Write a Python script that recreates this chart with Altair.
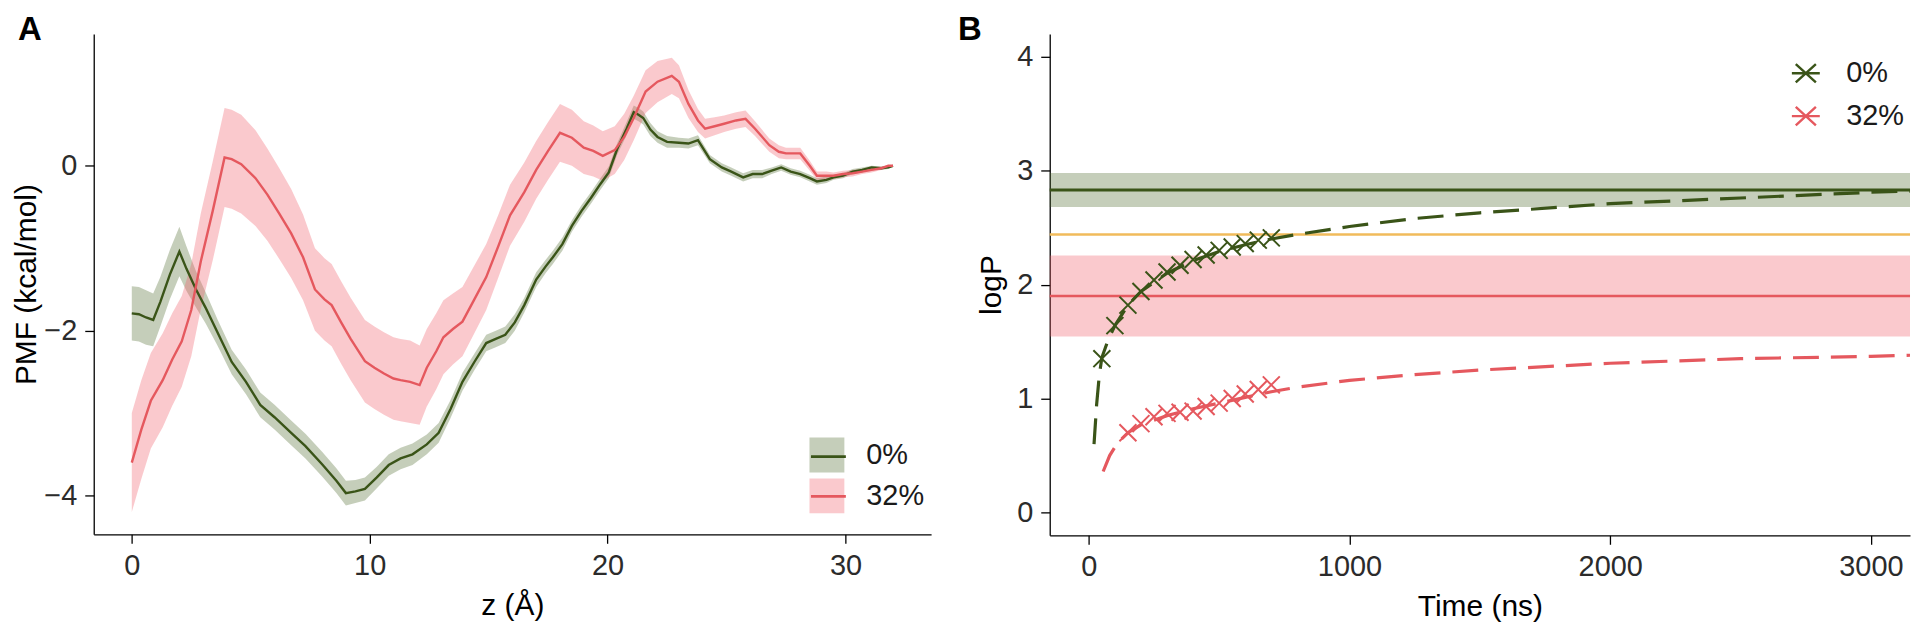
import altair as alt
import pandas as pd

FONT = "Liberation Sans"
SERIES = ["0%", "32%"]
GREEN = "#3a5418"
RED = "#e5585e"
GREEN_BAND = "rgba(74,104,40,0.32)"
RED_BAND = "rgba(240,96,108,0.34)"
ORANGE = "#f1bb5b"

# ---------------- Panel A: PMF profiles ----------------
z_0 = [0, 0.3, 0.6, 0.9, 1.2, 1.6, 2.0, 2.3, 2.7, 3.1, 3.6, 4.2, 4.8, 5.4, 6.0, 6.7, 7.3,
       8.0, 8.6, 9.0, 9.4, 9.8, 10.3, 10.8, 11.3, 11.8, 12.4, 12.9, 13.4, 13.9, 14.4,
       14.9, 15.3, 15.7, 16.1, 16.5, 17.0, 17.4, 17.7, 18.1, 18.5, 18.9, 19.3, 19.7,
       20.05, 20.4, 20.8, 21.1, 21.3, 21.5, 21.8, 22.1, 22.5, 23.0, 23.4, 23.8, 24.3,
       24.8, 25.2, 25.7, 26.1, 26.5, 26.9, 27.3, 27.7, 28.1, 28.5, 28.8, 29.2, 29.5,
       29.9, 30.3, 30.7, 31.1, 31.5, 31.8, 32.0]
pmf_0 = [-1.79, -1.80, -1.84, -1.87, -1.65, -1.32, -1.04, -1.25, -1.50, -1.72, -2.02,
         -2.38, -2.62, -2.90, -3.05, -3.24, -3.40, -3.62, -3.82, -3.97, -3.95, -3.92,
         -3.78, -3.63, -3.55, -3.50, -3.38, -3.24, -2.95, -2.62, -2.38, -2.15, -2.10,
         -2.05, -1.90, -1.69, -1.38, -1.22, -1.11, -0.95, -0.73, -0.55, -0.39, -0.22,
         -0.08, 0.20, 0.45, 0.65, 0.62, 0.58, 0.44, 0.35, 0.29, 0.28, 0.27, 0.31, 0.08,
         -0.02, -0.07, -0.14, -0.10, -0.10, -0.06, -0.02, -0.07, -0.10, -0.15, -0.19,
         -0.17, -0.14, -0.12, -0.07, -0.05, -0.02, -0.03, -0.02, 0.0]
err_0 = [0.33, 0.33, 0.33, 0.32, 0.30, 0.30, 0.30, 0.27, 0.22, 0.19, 0.16, 0.15, 0.15,
         0.15, 0.15, 0.15, 0.15, 0.15, 0.15, 0.15, 0.14, 0.14, 0.13, 0.13, 0.13, 0.13,
         0.12, 0.12, 0.11, 0.11, 0.10, 0.10, 0.10, 0.10, 0.10, 0.09, 0.09, 0.08, 0.08,
         0.08, 0.07, 0.07, 0.07, 0.07, 0.07, 0.07, 0.08, 0.08, 0.08, 0.08, 0.08, 0.07,
         0.07, 0.06, 0.06, 0.06, 0.05, 0.05, 0.05, 0.05, 0.05, 0.05, 0.04, 0.04, 0.04,
         0.04, 0.04, 0.04, 0.04, 0.03, 0.03, 0.03, 0.03, 0.02, 0.02, 0.02, 0.01]

z_32 = [0, 0.4, 0.8, 1.3, 1.7, 2.1, 2.5, 2.9, 3.4, 3.9, 4.2, 4.6, 5.2, 5.7, 6.2, 6.7, 7.2,
        7.7, 8.1, 8.4, 8.8, 9.2, 9.8, 10.2, 10.6, 11.0, 11.3, 11.7, 12.1, 12.4, 12.8,
        13.1, 13.5, 13.9, 14.4, 14.9, 15.4, 15.9, 16.5, 17.0, 17.5, 18.0, 18.5, 19.0,
        19.4, 19.8, 20.3, 20.7, 21.1, 21.6, 22.1, 22.7, 23.0, 23.4, 23.8, 24.1, 24.5,
        24.9, 25.4, 25.8, 26.2, 26.8, 27.2, 27.5, 28.1, 28.5, 28.8, 29.2, 29.5, 29.9,
        30.3, 30.7, 31.1, 31.5, 31.8, 32.0]
pmf_32 = [-3.60, -3.20, -2.85, -2.60, -2.35, -2.13, -1.75, -1.16, -0.55, 0.10, 0.08,
          0.02, -0.15, -0.35, -0.58, -0.82, -1.11, -1.50, -1.62, -1.69, -1.90, -2.10,
          -2.37, -2.45, -2.52, -2.58, -2.60, -2.62, -2.66, -2.45, -2.25, -2.08, -1.98,
          -1.89, -1.62, -1.35, -0.98, -0.60, -0.32, -0.05, 0.18, 0.40, 0.34, 0.22, 0.18,
          0.12, 0.19, 0.35, 0.58, 0.90, 1.02, 1.09, 1.02, 0.75, 0.55, 0.45, 0.48, 0.51,
          0.55, 0.57, 0.45, 0.25, 0.17, 0.15, 0.15, 0.00, -0.12, -0.12, -0.12, -0.10,
          -0.09, -0.07, -0.05, -0.03, 0.0, 0.0]
err_32 = [0.60, 0.60, 0.58, 0.57, 0.56, 0.55, 0.56, 0.58, 0.60, 0.60, 0.60, 0.60, 0.58,
          0.56, 0.55, 0.54, 0.52, 0.50, 0.50, 0.50, 0.50, 0.50, 0.50, 0.50, 0.50, 0.50,
          0.50, 0.50, 0.48, 0.47, 0.46, 0.45, 0.43, 0.42, 0.41, 0.40, 0.38, 0.37, 0.36,
          0.35, 0.35, 0.35, 0.34, 0.32, 0.31, 0.30, 0.29, 0.28, 0.27, 0.26, 0.25, 0.22,
          0.20, 0.17, 0.14, 0.12, 0.11, 0.10, 0.10, 0.10, 0.09, 0.08, 0.08, 0.07, 0.07,
          0.06, 0.05, 0.05, 0.04, 0.04, 0.04, 0.03, 0.03, 0.02, 0.01, 0.01]

# ---------------- Panel B: logP convergence ----------------
t_fit_0 = [20, 30, 40, 50, 75, 100, 150, 200, 300, 400, 500, 600, 700, 800, 1000, 1250,
           1500, 2000, 2500, 3000, 3150]
logp_fit_0 = [0.60, 0.95, 1.20, 1.36, 1.52, 1.64, 1.82, 1.94, 2.10, 2.21, 2.29, 2.35,
              2.40, 2.44, 2.51, 2.58, 2.63, 2.71, 2.76, 2.81, 2.82]
t_pts_0 = [50, 100, 150, 200, 250, 300, 350, 400, 450, 500, 550, 600, 650, 700]
logp_pts_0 = [1.35, 1.64, 1.82, 1.94, 2.04, 2.11, 2.17, 2.22, 2.26, 2.30, 2.33, 2.36,
              2.39, 2.41]

t_fit_32 = [55, 80, 110, 150, 200, 300, 400, 500, 600, 700, 800, 1000, 1250, 1500, 2000,
            2500, 3000, 3150]
logp_fit_32 = [0.36, 0.50, 0.61, 0.70, 0.77, 0.85, 0.91, 0.96, 1.01, 1.06, 1.10, 1.16,
               1.21, 1.25, 1.31, 1.35, 1.37, 1.38]
t_pts_32 = [150, 200, 250, 300, 350, 400, 450, 500, 550, 600, 650, 700]
logp_pts_32 = [0.70, 0.78, 0.84, 0.87, 0.88, 0.89, 0.93, 0.96, 1.00, 1.04, 1.08, 1.12]

ref_logp = [2.83, 1.90]
ref_err = [0.15, 0.355]
ref_width = [3.0, 2.6]
exp_logp = [2.44]

# ---------------- tables ----------------
dfA = pd.concat([
    pd.DataFrame({"z": z_0, "pmf": pmf_0, "err": err_0, "series": "0%"}),
    pd.DataFrame({"z": z_32, "pmf": pmf_32, "err": err_32, "series": "32%"}),
], ignore_index=True)
dfA["lo"] = dfA["pmf"] - dfA["err"]
dfA["hi"] = dfA["pmf"] + dfA["err"]
dfA["series_line"] = dfA["series"]

df_fit = pd.concat([
    pd.DataFrame({"t": t_fit_0, "logp": logp_fit_0, "col": GREEN}),
    pd.DataFrame({"t": t_fit_32, "logp": logp_fit_32, "col": RED}),
], ignore_index=True)
df_pts = pd.concat([
    pd.DataFrame({"t": t_pts_0, "logp": logp_pts_0, "series": "0%"}),
    pd.DataFrame({"t": t_pts_32, "logp": logp_pts_32, "series": "32%"}),
], ignore_index=True)
df_ref = pd.DataFrame({
    "logp": ref_logp,
    "lo": [v - e for v, e in zip(ref_logp, ref_err)],
    "hi": [v + e for v, e in zip(ref_logp, ref_err)],
    "col": [GREEN, RED],
    "band": [GREEN_BAND, RED_BAND],
    "w": ref_width,
})
df_exp = pd.DataFrame({"logp": exp_logp, "col": [ORANGE]})

# ---------------- Panel A chart ----------------
xA = alt.X("z:Q", scale=alt.Scale(domain=[-1.6, 33.6], nice=False, zero=False),
           axis=alt.Axis(values=[0, 10, 20, 30], title="z (Å)", titlePadding=10))
yscaleA = alt.Scale(domain=[-4.47, 1.6], nice=False, zero=False)
yaxisA = alt.Axis(values=[-4, -2, 0], title="PMF (kcal/mol)", titlePadding=2)

legA_common = dict(title=None, orient="none", legendX=718, legendY=405, symbolSize=1225,
                   labelFontSize=29, labelFont=FONT, labelColor="#1a1a1a", labelOffset=22,
                   rowPadding=6, padding=0)

bandA = alt.Chart(dfA).mark_area(opacity=1).encode(
    x=xA,
    y=alt.Y("lo:Q", scale=yscaleA, axis=yaxisA),
    y2="hi:Q",
    fill=alt.Fill("series:N", scale=alt.Scale(domain=SERIES, range=[GREEN_BAND, RED_BAND]),
                  legend=alt.Legend(symbolType="square", symbolStrokeWidth=0, **legA_common)),
)
lineA = alt.Chart(dfA).mark_line(strokeWidth=2.4).encode(
    x=xA,
    y=alt.Y("pmf:Q", scale=yscaleA, axis=yaxisA),
    stroke=alt.Stroke("series_line:N", scale=alt.Scale(range=[GREEN, RED]),
                      legend=alt.Legend(symbolType="stroke", symbolStrokeWidth=2.8,
                                        labelOpacity=0, zindex=1, **legA_common)),
)
panelA = alt.layer(bandA, lineA).properties(
    width=840, height=502,
    title=alt.TitleParams("A", anchor="start", frame="group", dx=-76, offset=-39,
                          baseline="alphabetic", fontSize=33, fontWeight="bold",
                          font=FONT, color="black"),
)

# ---------------- Panel B chart ----------------
xB = alt.X("t:Q", scale=alt.Scale(domain=[-150, 3150], nice=False, zero=False),
           axis=alt.Axis(values=[0, 1000, 2000, 3000], format="d", title="Time (ns)",
                         titlePadding=10))
yscaleB = alt.Scale(domain=[-0.2, 4.2], nice=False, zero=False)
yaxisB = alt.Axis(values=[0, 1, 2, 3, 4], title="logP", titlePadding=10)

bandB = alt.Chart(df_ref).mark_rect().encode(
    y=alt.Y("lo:Q", scale=yscaleB, axis=yaxisB),
    y2="hi:Q",
    fill=alt.Fill("band:N", scale=None),
)
ruleB = alt.Chart(df_ref).mark_rule().encode(
    y=alt.Y("logp:Q", scale=yscaleB, axis=yaxisB),
    color=alt.Color("col:N", scale=None),
    strokeWidth=alt.StrokeWidth("w:Q", scale=None),
)
expB = alt.Chart(df_exp).mark_rule(strokeWidth=2.4).encode(
    y=alt.Y("logp:Q", scale=yscaleB, axis=yaxisB),
    color=alt.Color("col:N", scale=None),
)
fitB = alt.Chart(df_fit).mark_line(strokeWidth=3.2, strokeDash=[26, 12], clip=True).encode(
    x=xB,
    y=alt.Y("logp:Q", scale=yscaleB, axis=yaxisB),
    color=alt.Color("col:N", scale=None),
)
X_SHAPE = "M-1,-1L1,1M-1,1L1,-1"
LEG_SHAPE = "M-0.72,-0.66L0.72,0.66M-0.72,0.66L0.72,-0.66M-1,0L1,0"
ptsB = alt.Chart(df_pts).mark_point(shape=X_SHAPE, filled=False, size=290, strokeWidth=2.0,
                                    opacity=1).encode(
    x=xB,
    y=alt.Y("logp:Q", scale=yscaleB, axis=yaxisB),
    stroke=alt.Stroke("series:N", scale=alt.Scale(domain=SERIES, range=[GREEN, RED]),
                      legend=alt.Legend(title=None, orient="none", legendX=743, legendY=24,
                                        symbolType=LEG_SHAPE, symbolSize=784,
                                        symbolStrokeWidth=2.4, symbolFillColor="transparent",
                                        labelFontSize=29, labelFont=FONT,
                                        labelColor="#1a1a1a", labelOffset=25,
                                        rowPadding=12, padding=0)),
)
panelB = alt.layer(bandB, ruleB, expB, fitB, ptsB).properties(
    width=863, height=503,
    title=alt.TitleParams("B", anchor="start", frame="group", dx=-92, offset=-39,
                          baseline="alphabetic", fontSize=33, fontWeight="bold",
                          font=FONT, color="black"),
)

chart = alt.hconcat(panelA, panelB, spacing=119, bounds="flush").resolve_scale(
    fill="independent", stroke="independent", color="independent"
).properties(padding={"left": 3, "top": 5, "right": 0, "bottom": 0}).configure_axis(
    domainColor="black", domainWidth=1.3, tickColor="black", tickWidth=1.3, tickSize=9,
    labelFont=FONT, labelFontSize=29, labelColor="#2b2b2b", labelPadding=8,
    titleFont=FONT, titleFontSize=30, titleColor="black", titleFontWeight="normal",
    grid=False,
).configure_view(stroke=None)

chart.save("out.html", embed_options={"renderer": "svg", "actions": False})
